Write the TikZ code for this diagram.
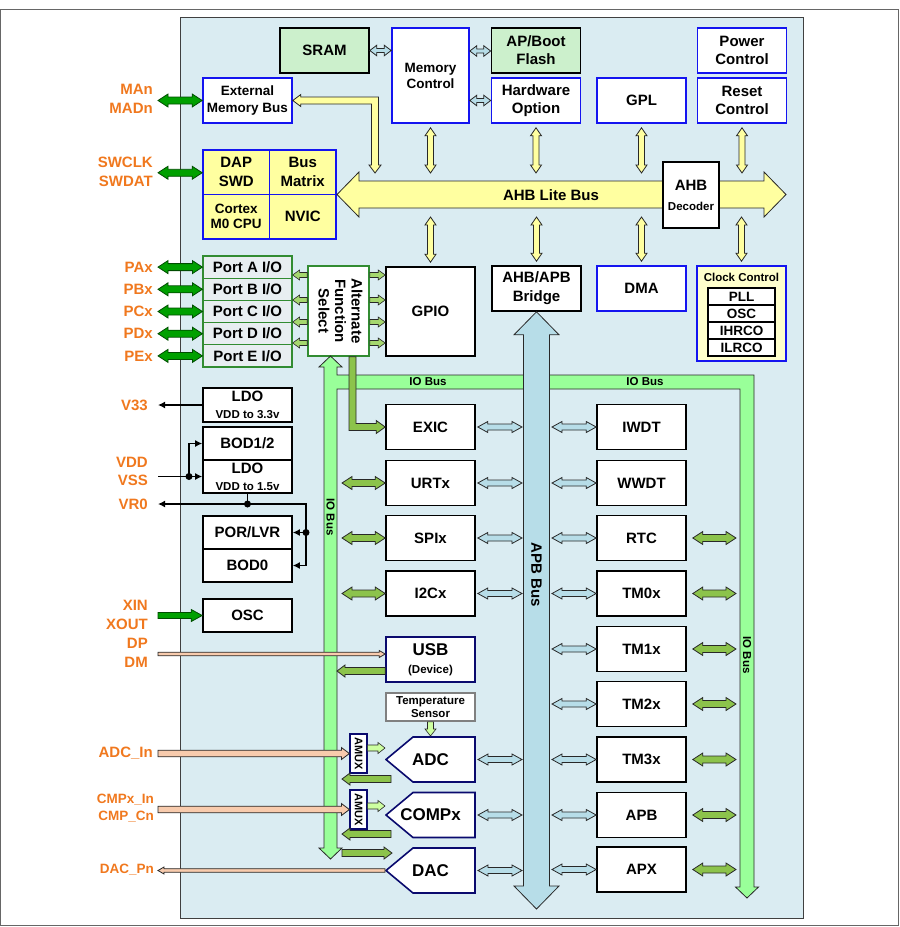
\documentclass[tikz,border=0pt]{standalone}
\usepackage{fontspec}
\setmainfont{Liberation Sans}
\usepackage{graphicx}
\usetikzlibrary{positioning,arrows.meta,calc}
\definecolor{chipbg}{RGB}{218,236,242}
\definecolor{busyel}{RGB}{255,255,160}
\definecolor{memgreen}{RGB}{204,240,204}
\definecolor{portgray}{RGB}{232,238,241}
\definecolor{clkyel}{RGB}{255,255,204}
\definecolor{apbblue}{RGB}{183,221,232}
\definecolor{iogreen}{RGB}{153,255,153}
\definecolor{pingreen}{RGB}{0,160,0}
\definecolor{leaf}{RGB}{140,195,75}
\definecolor{mint}{RGB}{165,215,110}
\definecolor{palegrn}{RGB}{205,255,160}
\definecolor{peach}{RGB}{248,203,173}
\definecolor{pinorange}{RGB}{240,120,30}
\definecolor{boxblue}{RGB}{20,20,240}
\definecolor{boxnavy}{RGB}{10,10,110}
\definecolor{portedge}{RGB}{50,140,50}
\definecolor{edge}{RGB}{40,40,40}
\newcommand{\blkarrow}[6]{%
  \path (#2) coordinate (ba-a) (#3) coordinate (ba-b);
  \path ($(ba-b)!#6pt!(ba-a)$) coordinate (ba-h);
  \draw[#1] ($(ba-a)!#4pt!90:(ba-b)$) -- ($(ba-h)!#4pt!-90:(ba-a)$)
    -- ($(ba-h)!#5pt!-90:(ba-a)$) -- (ba-b) -- ($(ba-h)!#5pt!90:(ba-a)$)
    -- ($(ba-h)!#4pt!90:(ba-a)$) -- ($(ba-a)!#4pt!-90:(ba-b)$) -- cycle;}
\newcommand{\blkdarrow}[6]{%
  \path (#2) coordinate (da-a) (#3) coordinate (da-b);
  \path ($(da-a)!#6pt!(da-b)$) coordinate (da-h) ($(da-b)!#6pt!(da-a)$) coordinate (da-k);
  \draw[#1] (da-a) -- ($(da-h)!#5pt!90:(da-b)$) -- ($(da-h)!#4pt!90:(da-b)$)
    -- ($(da-k)!#4pt!-90:(da-a)$) -- ($(da-k)!#5pt!-90:(da-a)$) -- (da-b)
    -- ($(da-k)!#5pt!90:(da-a)$) -- ($(da-k)!#4pt!90:(da-a)$)
    -- ($(da-h)!#4pt!-90:(da-b)$) -- ($(da-h)!#5pt!-90:(da-b)$) -- cycle;}
\tikzset{
  blk/.style={draw=black, line width=1.6pt, fill=#1, align=center, minimum width=89pt, minimum height=45pt, inner sep=1pt, font=\bfseries\fontsize{15}{18}\selectfont},
  blk/.default={white},
  bbox/.style={blk, draw=boxblue},
  nbox/.style={blk, draw=boxnavy},
  port/.style={blk=portgray, draw=portedge, line width=1.2pt, minimum height=22.2pt},
  clk/.style={blk, minimum width=67pt, minimum height=17pt, line width=1.2pt, inner sep=0pt, font=\bfseries\fontsize{13.5}{15}\selectfont},
  ana/.style={rectangle, fill=chipbg, minimum width=90.6pt, minimum height=46.6pt, inner sep=0pt, font=\bfseries\fontsize{17}{20}\selectfont,
    path picture={\draw[draw=boxnavy, fill=white, line width=1.6pt]
      ([xshift=27.8pt,yshift=-0.8pt]path picture bounding box.north west)
      -- ([xshift=-0.8pt,yshift=-0.8pt]path picture bounding box.north east)
      -- ([xshift=-0.8pt,yshift=0.8pt]path picture bounding box.south east)
      -- ([xshift=27.8pt,yshift=0.8pt]path picture bounding box.south west)
      -- ([xshift=0.8pt]path picture bounding box.west) -- cycle;}},
  pin/.style={text=pinorange, anchor=east, align=right, inner sep=0pt, font=\bfseries\fontsize{15}{19}\selectfont},
  buslbl/.style={font=\bfseries\fontsize{11.5}{13}\selectfont, inner sep=0pt},
  yel/.style={fill=busyel, draw=edge, line width=0.8pt},
  lblu/.style={fill=apbblue, draw=edge, line width=0.8pt},
  dgrn/.style={fill=pingreen, draw=black!70!green, line width=0.8pt},
  leafy/.style={fill=leaf, draw=edge, line width=0.8pt},
  minty/.style={fill=mint, draw=edge, line width=0.6pt},
  pale/.style={fill=palegrn, draw=edge, line width=0.6pt},
  pchy/.style={fill=peach, draw=edge, line width=0.8pt},
  wire/.style={line width=1.6pt, -{Latex[length=7pt,width=7pt]}},
  dot/.style={circle, fill=black, inner sep=0pt, minimum size=7pt}
}

\begin{document}
\begin{tikzpicture}[x=1pt, y=-1pt]
  \useasboundingbox (0,0) rectangle (900,927);
  \draw[draw=gray!80!black, line width=1pt] (0.8,9.5) rectangle (898.8,925.8);
  \draw[fill=chipbg, draw=black!75, line width=1pt] (180.5,17.5) rectangle (803,918);
  \coordinate (pinx) at (158,0);
  \coordinate (ahbtop) at (0,173);
  \coordinate (ahbbot) at (0,217);
  \coordinate (ahbL) at (337,194.5);
  \coordinate (ahbR) at (786,194.5);
  \coordinate (apbend) at (536.5,909);
  \coordinate (ioLin) at (337,0);
  \coordinate (ioLout) at (342,0);
  \coordinate (ioRin) at (736,0);
  \coordinate (apbL) at (522,0);
  \coordinate (apbR) at (552,0);
  \coordinate (emx) at (375,0);
  \coordinate (afx) at (352.5,0);

  \node[blk=memgreen] (sram) at (324.5,50.5) {SRAM};
  \node[bbox, minimum width=77pt, minimum height=95pt, font=\bfseries\fontsize{13.5}{16}\selectfont] (memctl) at (430.5,75.5) {Memory\\Control};
  \node[blk=memgreen] (flash) at (536,50.5) {AP/Boot\\Flash};
  \node[bbox] (hwopt) at (536,100.5) {Hardware\\Option};
  \node[bbox] (gpl) at (641.5,100.5) {GPL};
  \node[bbox] (pwrctl) at (742,50.5) {Power\\Control};
  \node[bbox] (rstctl) at (742,100.5) {Reset\\Control};
  \node[bbox, font=\bfseries\fontsize{13.5}{17}\selectfont] (extmem) at (247.5,100.5) {External\\Memory Bus};
  \node[blk=busyel, draw=boxblue, minimum width=66.5pt, minimum height=44.5pt, font=\bfseries\fontsize{15}{19}\selectfont] (dap) at (236.25,172.25) {DAP\\SWD};
  \node[blk=busyel, draw=boxblue, minimum width=66.5pt, minimum height=44.5pt, font=\bfseries\fontsize{15}{19}\selectfont] (busmx) at (302.75,172.25) {Bus\\Matrix};
  \node[blk=busyel, draw=boxblue, minimum width=66.5pt, minimum height=44.5pt, font=\bfseries\fontsize{13.5}{15}\selectfont] (cpu) at (236.25,216.75) {Cortex\\M0 CPU};
  \node[blk=busyel, draw=boxblue, minimum width=66.5pt, minimum height=44.5pt] (nvic) at (302.75,216.75) {NVIC};

  \node[blk, minimum height=89pt] (gpio) at (430.5,311.5) {GPIO};
  \node[blk, font=\bfseries\fontsize{15}{19}\selectfont] (bridge) at (536.5,288.5) {AHB/APB\\Bridge};
  \node[bbox] (dma) at (641.5,288.5) {DMA};
  \node[bbox, fill=clkyel, minimum height=95pt] (clkctl) at (741.5,313.5) {};
  \node[buslbl] (clkttl) at (741.5,277.5) {Clock Control};
  \node[clk] (pll) at (741.5,296.5) {PLL};
  \node[clk] (osc2) at (741.5,313.5) {OSC};
  \node[clk] (ihrco) at (741.5,330.5) {IHRCO};
  \node[clk] (ilrco) at (741.5,347.5) {ILRCO};

  \foreach \p/\y in {A/267.1, B/289.3, C/311.5, D/333.7, E/355.9} {
    \node[port] (port\p) at (247.5,\y) {Port \p{} I/O};
    \node[pin] (pin\p) at (153,\y) {P\p x};
    \blkdarrow{dgrn}{port\p.west -| pinx}{port\p.west}{3.5}{6.5}{10}
  }
  \node[blk, draw=portedge, minimum width=61pt, minimum height=90pt, inner sep=0pt] (afs) at (338.5,311)
    {\rotatebox{-90}{\fontsize{15}{16.5}\selectfont\begin{tabular}{@{}c@{}}Alternate\\Function\\Select\end{tabular}}};

  \node[blk] (exic) at (430.5,427) {EXIC};
  \node[blk] (urtx) at (430.5,483) {URTx};
  \node[blk] (spix) at (430.5,538) {SPIx};
  \node[blk] (i2cx) at (430.5,593.5) {I2Cx};
  \node[nbox] (usb) at (430.5,659.5) {{\fontsize{17}{20}\selectfont USB}\\{\fontsize{11.5}{13}\selectfont (Device)}};
  \node[blk, draw=gray, minimum height=28pt, font=\bfseries\fontsize{11.5}{13.5}\selectfont] (temp) at (430.5,707) {Temperature\\Sensor};
  \node[ana] (adc) at (430.5,759.5) {ADC};
  \node[ana] (compx) at (430.5,815) {COMPx};
  \node[ana] (dac) at (430.5,870.5) {DAC};
  \node[nbox, minimum width=17pt, minimum height=39pt, inner sep=0pt, line width=1.2pt] (amux1) at (358.5,753.5) {\rotatebox{-90}{\fontsize{11}{12}\selectfont AMUX}};
  \node[nbox, minimum width=17pt, minimum height=39pt, inner sep=0pt, line width=1.2pt] (amux2) at (358.5,809.5) {\rotatebox{-90}{\fontsize{11}{12}\selectfont AMUX}};

  \node[blk] (iwdt) at (641.5,427) {IWDT};
  \node[blk] (wwdt) at (641.5,483) {WWDT};
  \node[blk] (rtc) at (641.5,538) {RTC};
  \node[blk] (tm0x) at (641.5,593.5) {TM0x};
  \node[blk] (tm1x) at (641.5,649) {TM1x};
  \node[blk] (tm2x) at (641.5,704) {TM2x};
  \node[blk] (tm3x) at (641.5,759.5) {TM3x};
  \node[blk] (apb) at (641.5,815) {APB};
  \node[blk] (apx) at (641.5,869.5) {APX};

  \node[blk, minimum height=34pt, inner sep=0pt] (ldo33) at (247.5,405) {LDO\\[-1pt]{\fontsize{11.5}{12}\selectfont VDD to 3.3v}};
  \node[blk, minimum height=33pt] (bod12) at (247.5,443.5) {BOD1/2};
  \node[blk, minimum height=33pt, inner sep=0pt] (ldo15) at (247.5,476.5) {LDO\\[-1pt]{\fontsize{11.5}{12}\selectfont VDD to 1.5v}};
  \node[blk, minimum height=33pt] (porlvr) at (247.5,532.5) {POR/LVR};
  \node[blk, minimum height=33pt] (bod0) at (247.5,565.5) {BOD0};
  \node[blk, minimum height=33pt] (osc) at (247.5,615.5) {OSC};

  \node[pin] (pMA) at (153,98.5) {MAn\\MADn};
  \node[pin] (pSW) at (153,171.5) {SWCLK\\SWDAT};
  \node[pin] (pV33) at (148,405) {V33};
  \node[pin, font=\bfseries\fontsize{15}{18}\selectfont] (pVDD) at (148,471) {VDD\\VSS};
  \node[pin] (pVR0) at (148,504) {VR0};
  \node[pin] (pXIN) at (148,614.5) {XIN\\XOUT};
  \node[pin] (pDP) at (148,652.5) {DP\\DM};
  \node[pin] (pADC) at (153,753) {ADC\_In};
  \node[pin, font=\bfseries\fontsize{13.5}{17}\selectfont] (pCMP) at (154,808.5) {CMPx\_In\\CMP\_Cn};
  \node[pin, font=\bfseries\fontsize{13.5}{17}\selectfont] (pDAC) at (154,869.5) {DAC\_Pn};

  % buses
  \draw[fill=iogreen, draw=edge, line width=0.8pt] (330.5,356) -- (342,367) -- (337,367) -- (337,375)
    -- (754,375) -- (754,887) -- (758.5,887) -- (747,898) -- (735.5,887) -- (740,887) -- (740,389)
    -- (337,389) -- (337,848) -- (342,848) -- (330.5,859) -- (319,848) -- (324,848) -- (324,367)
    -- (319,367) -- cycle;
  \node[buslbl] (io1) at (428,382) {IO Bus};
  \node[buslbl] (io2) at (645,382) {IO Bus};
  \node[buslbl, rotate=-90] (io3) at (330.5,517) {IO Bus};
  \node[buslbl, rotate=-90] (io4) at (747,655) {IO Bus};
  \blkdarrow{lblu}{bridge.south}{apbend}{13}{22.5}{23}
  \node[rotate=-90, font=\bfseries\fontsize{15}{18}\selectfont] (apblbl) at (536.5,575) {APB Bus};
  \blkdarrow{yel}{ahbL}{ahbR}{13.5}{22.5}{22}
  \node[font=\bfseries\fontsize{15}{18}\selectfont] (ahblbl) at (551,195) {AHB Lite Bus};
  \node[blk, minimum width=56pt, minimum height=66pt, inner sep=0pt, font=\bfseries\fontsize{15}{20}\selectfont] (ahbdec) at (691,195) {AHB\\{\fontsize{11.5}{13}\selectfont Decoder}};

  % AHB side
  \foreach \n in {memctl,hwopt,gpl,rstctl}
    \blkdarrow{yel}{[yshift=-4pt]\n.south}{\n.south |- ahbtop}{3}{5.5}{8};
  \foreach \n in {gpio,bridge,dma,clkctl}
    \blkdarrow{yel}{\n.north |- ahbbot}{[yshift=4pt]\n.north}{3}{5.5}{8};
  \blkdarrow{lblu}{sram.east}{sram.east -| memctl.west}{2}{5.3}{7}
  \blkdarrow{lblu}{[yshift=-0.5pt]flash.west -| memctl.east}{[yshift=-0.5pt]flash.west}{2}{5.3}{7}
  \blkdarrow{lblu}{hwopt.west -| memctl.east}{hwopt.west}{2}{5.3}{7}
  \draw[yel] (extmem.east) -- ([xshift=8pt,yshift=6pt]extmem.east) -- ([xshift=8pt,yshift=3.5pt]extmem.east)
    -- ([xshift=3.5pt,yshift=3.5pt]emx |- extmem.east) -- ([xshift=3.5pt,yshift=8pt]emx |- ahbtop)
    -- ([xshift=6pt,yshift=8pt]emx |- ahbtop) -- (emx |- ahbtop) -- ([xshift=-6pt,yshift=8pt]emx |- ahbtop)
    -- ([xshift=-3.5pt,yshift=8pt]emx |- ahbtop) -- ([xshift=-3.5pt,yshift=-3.5pt]emx |- extmem.east)
    -- ([xshift=8pt,yshift=-3.5pt]extmem.east) -- ([xshift=8pt,yshift=-6pt]extmem.east) -- cycle;
  \blkdarrow{dgrn}{extmem.west -| pinx}{extmem.west}{3.5}{6.5}{10}
  \blkdarrow{dgrn}{[yshift=-0.5pt]dap.west -| pinx}{[yshift=-0.5pt]dap.west}{3.5}{6.5}{10}

  % ports and alternate functions
  \foreach \dy in {36,11,-11,-32} {
    \blkarrow{minty}{[yshift=\dy pt]afs.west}{[yshift=\dy pt]afs.west -| portA.east}{2.5}{5}{7}
    \blkarrow{minty}{[yshift=\dy pt]afs.east}{[yshift=\dy pt]afs.east -| gpio.west}{2.5}{5}{7}
  }
  \draw[leafy] ([xshift=-3.5pt]afx |- afs.south) -- ([xshift=3.5pt]afx |- afs.south)
    -- ([xshift=3.5pt,yshift=3.5pt]afx |- exic.west) -- ([xshift=-9pt,yshift=3.5pt]exic.west)
    -- ([xshift=-9pt,yshift=6.5pt]exic.west) -- (exic.west) -- ([xshift=-9pt,yshift=-6.5pt]exic.west)
    -- ([xshift=-9pt,yshift=-3.5pt]exic.west) -- ([xshift=-3.5pt,yshift=-3.5pt]afx |- exic.west) -- cycle;

  % peripherals
  \foreach \n in {urtx,spix,i2cx}
    \blkdarrow{leafy}{\n.west -| ioLout}{\n.west}{3.5}{6.5}{10};
  \foreach \n in {exic,urtx,spix,i2cx,adc,compx,dac}
    \blkdarrow{lblu}{[xshift=2pt]\n.east}{\n.east -| apbL}{3}{5.5}{10};
  \foreach \n in {iwdt,wwdt,rtc,tm0x,tm1x,tm2x,tm3x,apb,apx}
    \blkdarrow{lblu}{\n.west -| apbR}{\n.west}{3}{5.5}{10};
  \foreach \n in {rtc,tm0x,tm1x,tm2x,tm3x,apb,apx}
    \blkdarrow{leafy}{[xshift=6pt]\n.east}{\n.east -| ioRin}{3.5}{6.5}{10};
  \blkarrow{leafy}{[yshift=-11.5pt]usb.west}{[yshift=-11.5pt]usb.west -| ioLin}{3.5}{6}{8}
  \blkarrow{leafy}{[xshift=6pt,yshift=-19.5pt]adc.west}{[yshift=-19.5pt]adc.west -| ioLout}{3.5}{6}{8}
  \blkarrow{leafy}{[xshift=6pt,yshift=-19pt]compx.west}{[yshift=-19pt]compx.west -| ioLout}{3.5}{6}{8}
  \blkarrow{leafy}{[yshift=17.5pt]dac.west -| ioLout}{[xshift=7pt,yshift=17.5pt]dac.west}{3.5}{6}{8}
  \blkarrow{pale}{temp.south}{adc.north}{3}{5.5}{7}
  \blkarrow{pale}{[yshift=5.5pt]amux1.east}{[yshift=5.5pt]amux1.east -| adc.west}{3}{5.5}{7}
  \blkarrow{pale}{[yshift=3.5pt]amux2.east}{[yshift=3.5pt]amux2.east -| compx.west}{3}{5.5}{7}

  % pins
  \blkarrow{pchy}{[yshift=5.5pt]usb.west -| pinx}{[yshift=5.5pt]usb.west}{1.8}{3.5}{6}
  \blkarrow{pchy}{amux1.west -| pinx}{amux1.west}{3.3}{6}{8}
  \blkarrow{pchy}{amux2.west -| pinx}{amux2.west}{3.3}{6}{8}
  \blkarrow{pchy}{dac.west}{dac.west -| pinx}{1.8}{3.5}{6}
  \blkarrow{dgrn}{osc.west -| pinx}{osc.west}{3}{6}{11}

  % power
  \node[dot] (j1) at (189,476.5) {};
  \node[dot] (j2) at (247.5,504) {};
  \node[dot] (j3) at (306,532.5) {};
  \coordinate (vr) at (306,504);
  \draw[wire] (ldo33.west) -- (ldo33.west -| pinx);
  \draw[wire] (ldo15.west -| pinx) -- (ldo15.west);
  \draw[wire] (j1.center) |- (bod12.west);
  \draw[line width=1.6pt] (ldo15.south) -- (j2.center);
  \draw[wire, {Latex[length=7pt,width=7pt]}-{Latex[length=7pt,width=7pt]}] (vr -| pinx) -- (vr) |- (bod0.east);
  \draw[wire] (j3.center) -- (porlvr.east);
\end{tikzpicture}
\end{document}
